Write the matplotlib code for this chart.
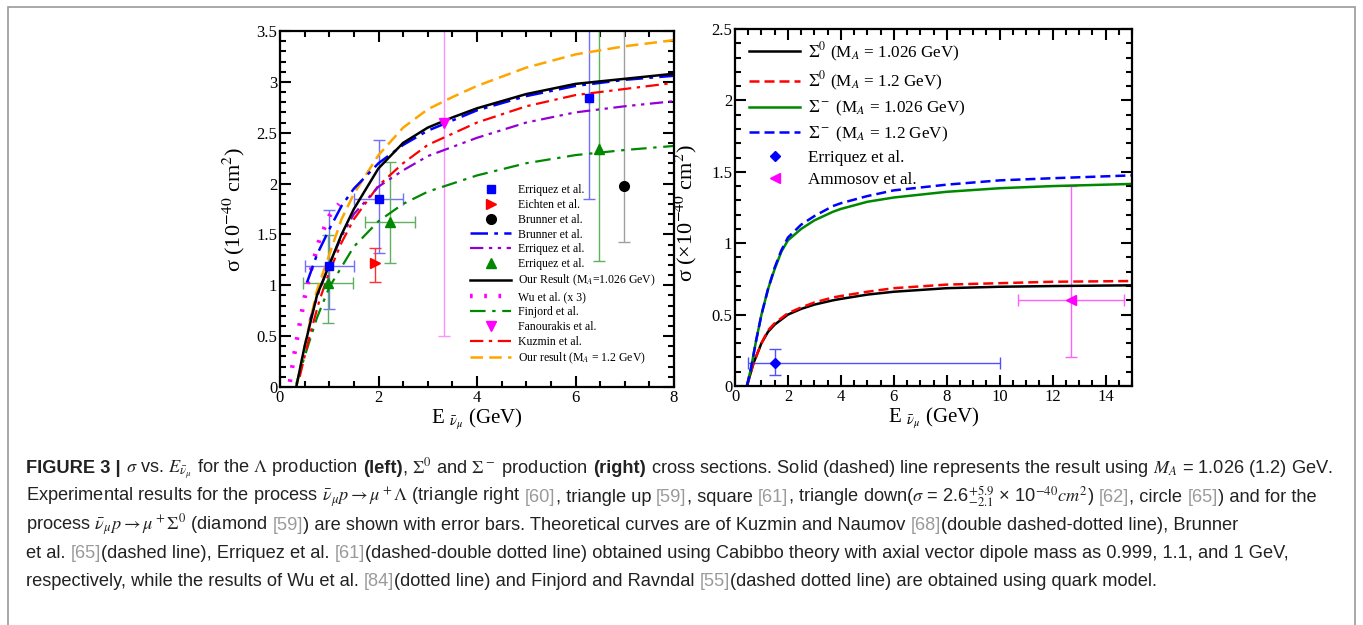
import numpy as np
import matplotlib
matplotlib.use('Agg')
import matplotlib.pyplot as plt
from matplotlib.lines import Line2D
from matplotlib.patches import Rectangle
from matplotlib.ticker import MultipleLocator, FuncFormatter
from matplotlib import font_manager

plt.rcParams['font.family'] = ['Liberation Serif', 'DejaVu Serif']
plt.rcParams['mathtext.fontset'] = 'stix'

##################   Data (left: Lambda)  #########################

E_black = [0.33, 0.5, 0.75, 1, 1.25, 1.5, 2, 2.5, 3, 3.5, 4, 5, 6, 7, 8]
s_black = [0, 0.4, 0.9, 1.2, 1.5, 1.75, 2.15, 2.4, 2.55, 2.65, 2.74, 2.88, 2.98, 3.03, 3.08]
E_orange = [0.33, 0.5, 0.75, 1, 1.25, 1.5, 2, 2.5, 3, 3.5, 4, 5, 6, 7, 8]
s_orange = [0, 0.4, 0.95, 1.3, 1.65, 1.9, 2.28, 2.55, 2.73, 2.85, 2.96, 3.14, 3.27, 3.35, 3.41]
E_brunner = [0.55, 0.75, 1, 1.25, 1.5, 2, 2.5, 3, 4, 5, 6, 7, 8]
s_brunner = [1.03, 1.3, 1.55, 1.78, 1.95, 2.2, 2.38, 2.52, 2.72, 2.86, 2.96, 3.02, 3.06]
E_purple = [0.6, 0.8, 1, 1.25, 1.5, 2, 2.5, 3, 4, 5, 6, 7, 8]
s_purple = [0.65, 0.95, 1.2, 1.48, 1.7, 1.97, 2.13, 2.27, 2.45, 2.6, 2.7, 2.76, 2.81]
E_kuzmin = [0.4, 0.6, 0.8, 1, 1.25, 1.5, 2, 2.5, 3, 4, 5, 6, 7, 8]
s_kuzmin = [0.1, 0.5, 0.85, 1.13, 1.42, 1.65, 1.98, 2.2, 2.38, 2.6, 2.76, 2.87, 2.93, 2.99]
E_finjord = [0.33, 0.5, 0.75, 1, 1.5, 2, 2.5, 3, 4, 5, 6, 7, 8]
s_finjord = [0.03, 0.3, 0.68, 0.98, 1.38, 1.63, 1.8, 1.92, 2.08, 2.2, 2.28, 2.33, 2.37]
E_wu = [0.2, 0.25, 0.3, 0.4, 0.5, 0.6, 0.8, 1.0, 1.2]
s_wu = [0.05, 0.2, 0.35, 0.62, 0.88, 1.1, 1.45, 1.68, 1.8]

# experimental points
sq_E = [1.0, 2.0, 6.28]
sq_s = [1.19, 1.85, 2.84]
sq_xlo = [0.5, 0.5, 0]
sq_xhi = [0.5, 0.5, 0]
sq_ylo = [0.42, 0.53, 0.99]
sq_yhi = [0.55, 0.58, 1.2]

eich_E = [1.93]
eich_s = [1.22]
eich_ylo = [0.19]
eich_yhi = [0.15]

brun_E = [6.98]
brun_s = [1.98]
brun_ylo = [0.55]
brun_yhi = [1.6]

tri_E = [0.97, 2.23, 6.48]
tri_s = [1.02, 1.62, 2.34]
tri_xlo = [0.5, 0.5, 0]
tri_xhi = [0.51, 0.51, 0]
tri_ylo = [0.39, 0.4, 1.1]
tri_yhi = [0.47, 0.59, 1.3]

fan_E = [3.34]
fan_s = [2.6]
fan_ylo = [2.1]
fan_yhi = [5.9]

##################   Data (right: Sigma)  #########################

E_sm = [0.45, 0.6, 0.8, 1, 1.25, 1.5, 1.75, 2, 2.5, 3, 3.7, 4, 5, 6, 8, 10, 12, 15]
s_sm_1026 = [0, 0.12, 0.32, 0.5, 0.68, 0.82, 0.94, 1.02, 1.1, 1.16, 1.22, 1.24, 1.29, 1.32, 1.36, 1.385, 1.4, 1.415]
s_sm_12 = [0, 0.12, 0.32, 0.5, 0.68, 0.83, 0.95, 1.04, 1.13, 1.19, 1.26, 1.28, 1.33, 1.37, 1.41, 1.44, 1.455, 1.475]
E_s0 = [0.45, 0.7, 1, 1.25, 1.5, 2, 2.5, 3, 3.7, 4, 5, 6, 8, 10, 12, 15]
s_s0_1026 = [0, 0.16, 0.3, 0.38, 0.43, 0.5, 0.54, 0.57, 0.6, 0.61, 0.64, 0.66, 0.685, 0.695, 0.70, 0.705]
s_s0_12 = [0, 0.16, 0.3, 0.39, 0.44, 0.51, 0.55, 0.585, 0.62, 0.63, 0.66, 0.685, 0.71, 0.72, 0.73, 0.735]

dia_E = [1.5]
dia_s = [0.16]
dia_xlo = [1.0]
dia_xhi = [8.5]
dia_ylo = [0.08]
dia_yhi = [0.1]

amm_E = [12.7]
amm_s = [0.6]
amm_xlo = [2.0]
amm_xhi = [2.0]
amm_ylo = [0.4]
amm_yhi = [0.8]

###############   Figure    ########################

W, H = 1363, 625
fig = plt.figure(figsize=(W / 100, H / 100), dpi=100)
fig.patches.append(Rectangle((8 / W, -0.05), 1347 / W, 1.0 - 7 / H + 0.05,
                             transform=fig.transFigure, fill=False,
                             edgecolor='#9a9a9a', lw=1.2))

ax1 = fig.add_axes([280 / W, 1 - 387 / H, 394 / W, 356 / H])
ax2 = fig.add_axes([735 / W, 1 - 386 / H, 397 / W, 357 / H])

fmt = FuncFormatter(lambda v, p: '%g' % v)
for ax in (ax1, ax2):
    for sp in ax.spines.values():
        sp.set_linewidth(1.6)
    ax.tick_params(which='both', direction='in', top=True, right=True, width=1.5,
                   labelsize=12, pad=2)
    ax.tick_params(which='major', length=8)
    ax.tick_params(which='minor', length=4.5)
    ax.xaxis.set_minor_locator(MultipleLocator(0.5))
    ax.yaxis.set_minor_locator(MultipleLocator(0.1))
    ax.yaxis.set_major_locator(MultipleLocator(0.5))
    ax.xaxis.set_major_locator(MultipleLocator(2))
    ax.xaxis.set_major_formatter(fmt)
    ax.yaxis.set_major_formatter(fmt)

# ---- left panel
ax1.set_xlim(0, 8)
ax1.set_ylim(0, 3.5)
eb = dict(ls='none', capsize=4, elinewidth=1.0, capthick=1.0)
ax1.errorbar(sq_E, sq_s, xerr=[sq_xlo, sq_xhi], yerr=[sq_ylo, sq_yhi], ecolor='#7070ff', **eb)
ax1.errorbar(eich_E, eich_s, yerr=[eich_ylo, eich_yhi], ecolor='#ff3030', **eb)
ax1.errorbar(brun_E, brun_s, yerr=[brun_ylo, brun_yhi], ecolor='#a0a0a0', **eb)
ax1.errorbar(tri_E, tri_s, xerr=[tri_xlo, tri_xhi], yerr=[tri_ylo, tri_yhi], ecolor='#60b060', **eb)
ax1.errorbar(fan_E, fan_s, yerr=[fan_ylo, fan_yhi], ecolor='#ff90ff', **eb)

l_wu, = ax1.plot(E_wu, s_wu, color='#ff00ff', lw=3.2, ls=(0, (0.6, 2.6)))
l_fin, = ax1.plot(E_finjord, s_finjord, color='#008800', lw=1.6, ls=(0, (7, 3, 1.5, 3)))
l_kuz, = ax1.plot(E_kuzmin, s_kuzmin, color='#ff0000', lw=1.6, ls=(0, (6, 2.5, 1.5, 2.5)))
l_pur, = ax1.plot(E_purple, s_purple, color='#9400d3', lw=1.6, ls=(0, (6, 2.5, 1.5, 2.5, 1.5, 2.5)))
l_ora, = ax1.plot(E_orange, s_orange, color='#ffa500', lw=1.8, ls=(0, (5, 2.5)))
l_bru, = ax1.plot(E_brunner, s_brunner, color='#0000ff', lw=1.8, ls=(0, (7, 2.5, 1.5, 2.5)))
l_blk, = ax1.plot(E_black, s_black, color='black', lw=1.8)

ax1.plot(sq_E, sq_s, 's', color='#0000ff', ms=6)
ax1.plot(eich_E, eich_s, '>', color='#ff0000', ms=7)
ax1.plot(brun_E, brun_s, 'o', color='black', ms=7)
ax1.plot(tri_E, tri_s, '^', color='#008800', ms=7)
ax1.plot(fan_E, fan_s, 'v', color='#ff00ff', ms=7)

h_sq = Line2D([], [], ls='none', marker='s', color='#0000ff', ms=6)
h_ei = Line2D([], [], ls='none', marker='>', color='#ff0000', ms=7)
h_br = Line2D([], [], ls='none', marker='o', color='black', ms=7)
h_tr = Line2D([], [], ls='none', marker='^', color='#008800', ms=7)
h_fa = Line2D([], [], ls='none', marker='v', color='#ff00ff', ms=7)
handles1 = [h_sq, h_ei, h_br, l_bru, l_pur, h_tr, l_blk, l_wu, l_fin, h_fa, l_kuz, l_ora]
labels1 = ['Erriquez et al.', 'Eichten et al.', 'Brunner et al.', 'Brunner et al.',
           'Erriquez et al.', 'Erriquez et al.', r'Our Result (M$_A$=1.026 GeV)',
           'Wu et al. (x 3)', 'Finjord et al.', 'Fanourakis et al.', 'Kuzmin et al.',
           r'Our result (M$_A$ = 1.2 GeV)']
ax1.legend(handles1, labels1, loc='upper left', bbox_to_anchor=(0.482, 0.57),
           frameon=False, fontsize=8.5, handlelength=3.5, handletextpad=0.6,
           labelspacing=0.24, borderpad=0, borderaxespad=0)

ax1.set_ylabel(r'σ (10$^{-40}$ cm$^{2}$)', fontsize=16)
ax1.yaxis.set_label_coords(-0.085, 0.5)
ax1.set_xlabel(r'E $_{\bar{\nu}_{\mu}}$ (GeV)', fontsize=15)
ax1.xaxis.set_label_coords(0.5, -0.055)

# ---- right panel
ax2.set_xlim(0, 15)
ax2.set_ylim(0, 2.5)
ax2.errorbar(dia_E, dia_s, xerr=[dia_xlo, dia_xhi], yerr=[dia_ylo, dia_yhi], ecolor='#5050ff', **eb)
ax2.errorbar(amm_E, amm_s, xerr=[amm_xlo, amm_xhi], yerr=[amm_ylo, amm_yhi], ecolor='#ff60ff', **eb)
r1, = ax2.plot(E_s0, s_s0_1026, color='black', lw=1.8)
r2, = ax2.plot(E_s0, s_s0_12, color='#ff0000', lw=1.8, ls=(0, (4, 2)))
r3, = ax2.plot(E_sm, s_sm_1026, color='#008800', lw=1.8)
r4, = ax2.plot(E_sm, s_sm_12, color='#0000ff', lw=1.8, ls=(0, (4, 2)))
ax2.plot(dia_E, dia_s, 'D', color='#0000ff', ms=5)
ax2.plot(amm_E, amm_s, '<', color='#ff00ff', ms=7)
h_di = Line2D([], [], ls='none', marker='D', color='#0000ff', ms=5)
h_am = Line2D([], [], ls='none', marker='<', color='#ff00ff', ms=7)
labels2 = [r'$\Sigma^0$ (M$_A$ = 1.026 GeV)', r'$\Sigma^0$ (M$_A$ = 1.2 GeV)',
           r'$\Sigma^-$ (M$_A$ = 1.026 GeV)', r'$\Sigma^-$ (M$_A$ = 1.2 GeV)',
           'Erriquez et al.', 'Ammosov et al.']
ax2.legend([r1, r2, r3, r4, h_di, h_am], labels2, loc='upper left',
           bbox_to_anchor=(0.035, 0.968), frameon=False, fontsize=12.3,
           handlelength=3.0, handletextpad=0.45, labelspacing=0.36,
           borderpad=0, borderaxespad=0)

ax2.set_ylabel(r'σ (×10$^{-40}$ cm$^{2}$)', fontsize=16)
ax2.yaxis.set_label_coords(-0.09, 0.485)
ax2.set_xlabel(r'E $_{\bar{\nu}_{\mu}}$ (GeV)', fontsize=15)
ax2.xaxis.set_label_coords(0.5, -0.055)

###############   Caption    ########################

avail = {f.name for f in font_manager.fontManager.ttflist}
cap_family = 'Liberation Sans Narrow' if 'Liberation Sans Narrow' in avail else 'Liberation Sans'

G = '#9a9a9a'
cap_lines = [
    [('FIGURE 3 |', 'b'), (r' $\sigma$ vs. $E_{\bar{\nu}_\mu}$ for the $\Lambda$ production ', 'n'),
     ('(left)', 'b'), (r', $\Sigma^0$ and $\Sigma^-$ production ', 'n'), ('(right)', 'b'),
     (r' cross sections. Solid (dashed) line represents the result using $M_A$ = 1.026 (1.2) GeV.', 'n')],
    [(r'Experimental results for the process $\bar{\nu}_\mu p \rightarrow \mu^+\Lambda$ (triangle right ', 'n'),
     ('[60]', 'g'), (', triangle up ', 'n'), ('[59]', 'g'), (', square ', 'n'), ('[61]', 'g'),
     (r', triangle down($\sigma$ = 2.6$^{+5.9}_{-2.1}$ × 10$^{-40}$$cm^2$) ', 'n'), ('[62]', 'g'),
     (', circle ', 'n'), ('[65]', 'g'), (') and for the', 'n')],
    [(r'process $\bar{\nu}_\mu p \rightarrow \mu^+\Sigma^0$ (diamond ', 'n'), ('[59]', 'g'),
     (') are shown with error bars. Theoretical curves are of Kuzmin and Naumov ', 'n'), ('[68]', 'g'),
     ('(double dashed-dotted line), Brunner', 'n')],
    [('et al. ', 'n'), ('[65]', 'g'), ('(dashed line), Erriquez et al. ', 'n'), ('[61]', 'g'),
     ('(dashed-double dotted line) obtained using Cabibbo theory with axial vector dipole mass as 0.999, 1.1, and 1 GeV,', 'n')],
    [('respectively, while the results of Wu et al. ', 'n'), ('[84]', 'g'),
     ('(dotted line) and Finjord and Ravndal ', 'n'), ('[55]', 'g'),
     ('(dashed dotted line) are obtained using quark model.', 'n')],
]
cap_y = [468, 497, 525, 553, 581]

renderer = fig.canvas.get_renderer()


def text_width(s, size, weight='normal'):
    t = fig.text(0, 0, s, fontsize=size, family=cap_family, weight=weight)
    w = t.get_window_extent(renderer).width
    t.remove()
    return w


def draw_line(segs, x, y, size, dry=False):
    sp = text_width('a a', size) - text_width('aa', size)
    for s, st in segs:
        lead = len(s) - len(s.lstrip(' '))
        trail = len(s) - len(s.rstrip(' '))
        x += lead * sp
        s = s.strip(' ')
        w = text_width(s, size, 'bold' if st == 'b' else 'normal')
        if not dry:
            fig.text(x / W, 1 - y / H, s, fontsize=size, family=cap_family,
                     weight='bold' if st == 'b' else 'normal',
                     color=G if st == 'g' else '#222222', va='baseline', ha='left')
        x += w + trail * sp
    return x


base = 11.5
end = draw_line(cap_lines[0], 26, 0, base, dry=True)
cap_size = base * (1335 - 26) / (end - 26)
for segs, yy in zip(cap_lines, cap_y):
    draw_line(segs, 26, yy + 5, cap_size)

fig.savefig('out.png', dpi=100)
